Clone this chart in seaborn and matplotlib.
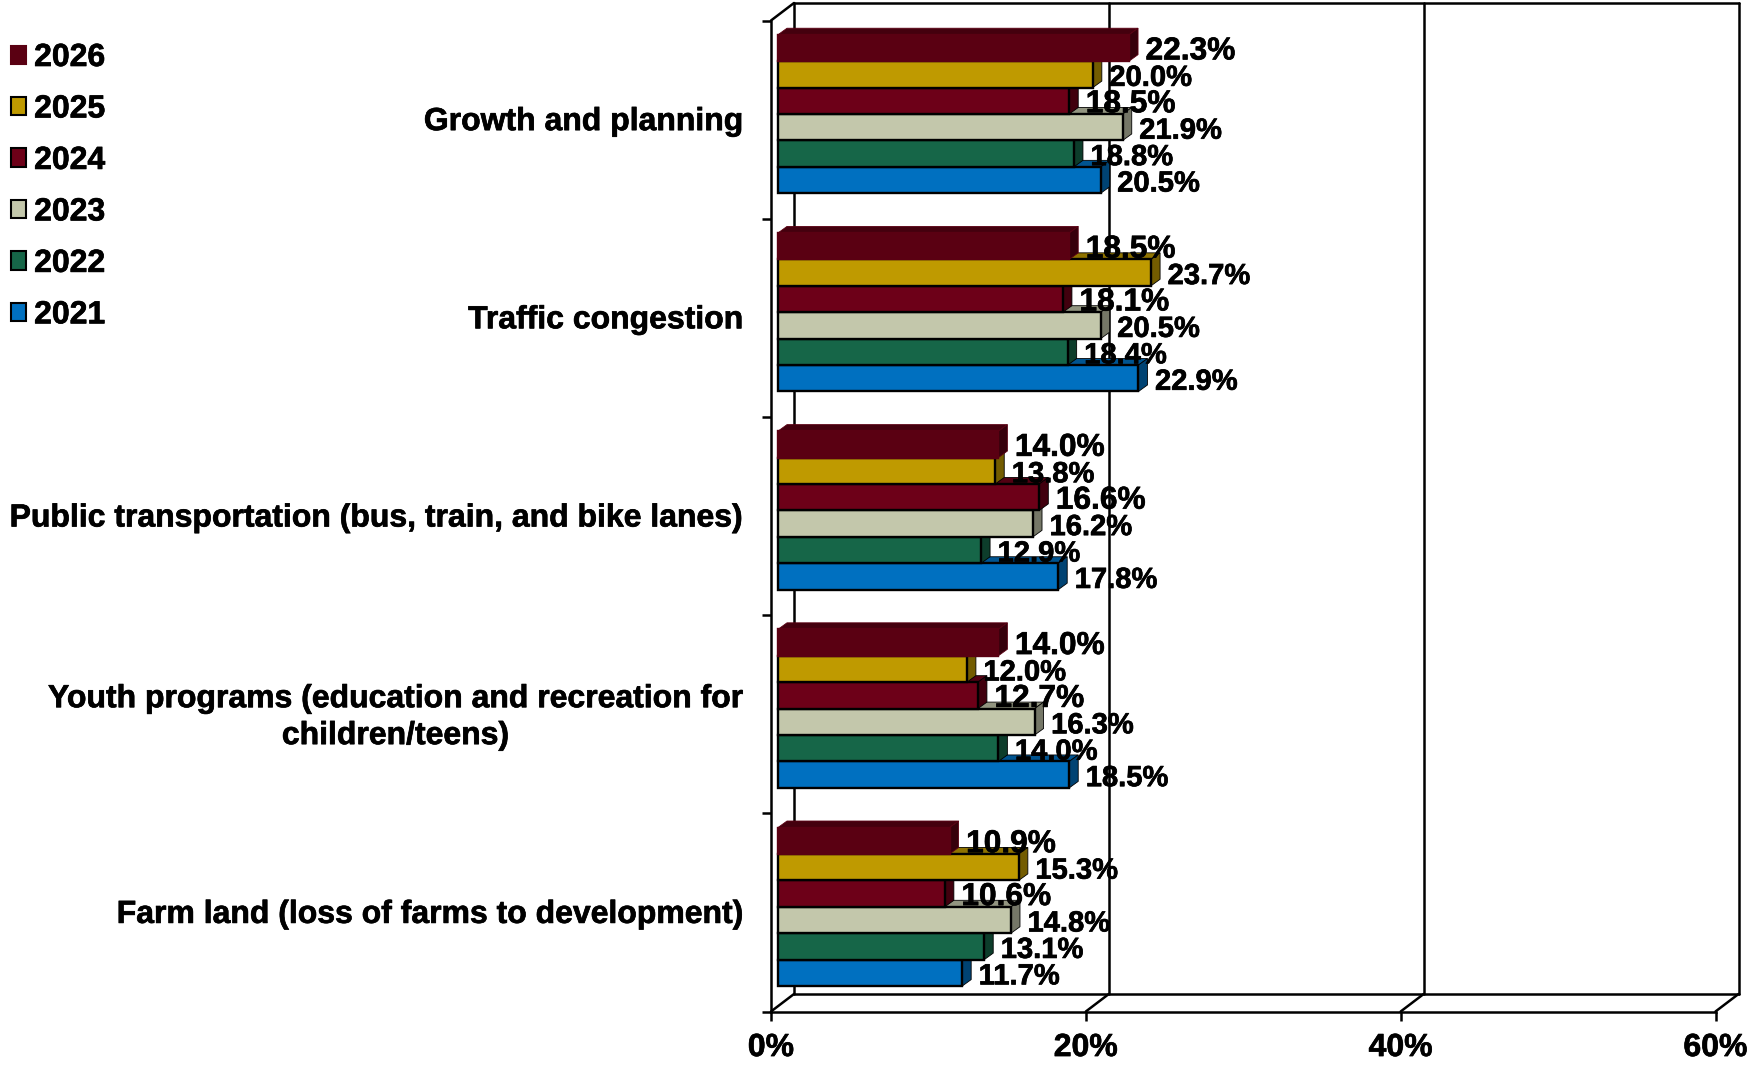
import matplotlib
matplotlib.use("Agg")
import matplotlib.patheffects as pe
import matplotlib.pyplot as plt
import pandas as pd
import seaborn as sns
from matplotlib.colors import to_rgb
from matplotlib.lines import Line2D
from matplotlib.patches import Patch, Polygon
from matplotlib.transforms import Affine2D, IdentityTransform

categories = [
    "Growth and planning",
    "Traffic congestion",
    "Public transportation (bus, train, and bike lanes)",
    "Youth programs (education and recreation for\nchildren/teens)",
    "Farm land (loss of farms to development)",
]
years = ["2026", "2025", "2024", "2023", "2022", "2021"]
values_2026 = [22.3, 18.5, 14.0, 14.0, 10.9]
values_2025 = [20.0, 23.7, 13.8, 12.0, 15.3]
values_2024 = [18.5, 18.1, 16.6, 12.7, 10.6]
values_2023 = [21.9, 20.5, 16.2, 16.3, 14.8]
values_2022 = [18.8, 18.4, 12.9, 14.0, 13.1]
values_2021 = [20.5, 22.9, 17.8, 18.5, 11.7]
colors = ["#5a0012", "#bf9a00", "#6d0018", "#c3c7ab", "#166648", "#0070c0"]
x_ticks = [0, 20, 40, 60]

W, H = 1763, 1065
FONT = 23
LW = 1.8
heavy = [pe.withStroke(linewidth=0.5, foreground="black")]

# long table for seaborn
series = [values_2026, values_2025, values_2024, values_2023, values_2022, values_2021]
rows = []
for year, vals in zip(years, series):
    for cat, v in zip(categories, vals):
        rows.append({"category": cat, "year": year, "value": v})
df = pd.DataFrame(rows)

sns.set_theme(style="white")
plt.rcParams["font.family"] = ["Liberation Sans", "DejaVu Sans"]
plt.rcParams["font.weight"] = "bold"

fig = plt.figure(figsize=(W / 100, H / 100), dpi=100)
# axes is the front plane of the fake 3d box
ax = fig.add_axes([771 / W, 1 - 1011.5 / H, 944.5 / W, 991 / H])

sns.barplot(data=df, y="category", x="value", hue="year", order=categories,
            hue_order=years, palette=dict(zip(years, colors)), orient="h",
            width=0.8, saturation=1, ax=ax, legend=False)

ax.set_xlim(0, 60)
ax.set_ylim(4.5, -0.5)
ax.set_xlabel("")
ax.set_ylabel("")

# axes lines and ticks
for s in ["top", "right"]:
    ax.spines[s].set_visible(False)
for s in ["left", "bottom"]:
    ax.spines[s].set_linewidth(LW)
    ax.spines[s].set_color("black")
ax.set_xticks(x_ticks, [f"{t}%" for t in x_ticks], fontsize=FONT, fontweight="bold", color="black")
ax.set_yticks([i - 0.5 for i in range(6)], [""] * 6)
ax.set_yticks(range(5), categories, minor=True, fontsize=FONT, fontweight="bold", color="black")
ax.tick_params(axis="x", bottom=True, length=6.5, width=LW, color="black", pad=9)
ax.tick_params(axis="y", which="major", left=True, length=6.5, width=LW, color="black")
ax.tick_params(axis="y", which="minor", left=False, length=0, pad=20)
for t in ax.get_xticklabels():
    t.set_path_effects(heavy)
for t in ax.get_yticklabels(minor=True):
    two_lines = "\n" in t.get_text()
    t.set_multialignment("center")
    t.set_linespacing(1.3)
    t.set_path_effects(heavy)
    t.set_transform(t.get_transform() + Affine2D().translate(0, 3.5 if two_lines else 1))

# back wall and floor, offset from the front plane
DX, DY = 23, 17.5
back = ax.transData + Affine2D().translate(DX, DY)
ax.plot([0, 60], [-0.5, -0.5], color="black", lw=LW, transform=back, clip_on=False, zorder=1)
ax.plot([0, 60], [4.5, 4.5], color="black", lw=LW, transform=back, clip_on=False, zorder=1)
for t in x_ticks:
    ax.plot([t, t], [4.5, -0.5], color="black", lw=LW, transform=back, clip_on=False, zorder=1)
    x0, y0 = ax.transData.transform((t, 4.5))
    ax.add_line(Line2D([x0, x0 + DX], [y0, y0 + DY], color="black", lw=LW,
                       transform=IdentityTransform(), clip_on=False, zorder=1))
x0, y0 = ax.transData.transform((0, -0.5))
ax.add_line(Line2D([x0, x0 + DX], [y0, y0 + DY], color="black", lw=LW,
                   transform=IdentityTransform(), clip_on=False, zorder=1))


def shade(color, f):
    r, g, b = to_rgb(color)
    return (r * f, g * f, b * f)


# bars: move off the wall and add side and top faces
SX, SY = 7, 5.6
BX, BY = 9, 6.5
shift = ax.transData + Affine2D().translate(SX, SY)
for n, (year, color, bars) in enumerate(zip(years, colors, ax.containers)):
    z = 10 + (len(years) - n) * 2
    edge = color if year == "2026" else "black"
    for bar in bars:
        w = bar.get_width()
        y, h = bar.get_y(), bar.get_height()
        bar.set_transform(shift)
        bar.set_clip_on(False)
        bar.set_edgecolor(edge)
        bar.set_linewidth(1.7)
        bar.set_zorder(z)
        (xl, yb), (xr, yt) = shift.transform([(0, y + h), (w, y)])
        top = [(xl, yt), (xr, yt), (xr + BX, yt + BY), (xl + BX, yt + BY)]
        side = [(xr, yb), (xr + BX, yb + BY), (xr + BX, yt + BY), (xr, yt)]
        ax.add_patch(Polygon(top, closed=True, fc=shade(color, 0.75), ec=edge, lw=0.6,
                             transform=IdentityTransform(), clip_on=False, zorder=z - 1))
        ax.add_patch(Polygon(side, closed=True, fc=shade(color, 0.6), ec=edge, lw=0.6,
                             transform=IdentityTransform(), clip_on=False, zorder=z - 1))
        # value label
        size = 22.8 if year in ("2026", "2024") else 21
        ax.text(xr + 16.5, (yb + yt) / 2 - 3.5, f"{w:.1f}%", fontsize=size, fontweight="bold",
                color="black", ha="left", va="center", transform=IdentityTransform(),
                clip_on=False, zorder=40, path_effects=heavy)

# legend
handles = [Patch(facecolor=c, edgecolor=(c if y == "2026" else "black"), linewidth=1.5)
           for y, c in zip(years, colors)]
leg = fig.legend(handles, years, loc="upper left", bbox_to_anchor=(10.5 / W, 1 - 43 / H),
                 frameon=False, borderpad=0, borderaxespad=0, fontsize=23,
                 handlelength=0.5, handleheight=0.5, handletextpad=0.24, labelspacing=0.672)
for t in leg.get_texts():
    t.set_fontweight("bold")
    t.set_color("black")
    t.set_path_effects(heavy)

fig.savefig("out.png", dpi=100)
